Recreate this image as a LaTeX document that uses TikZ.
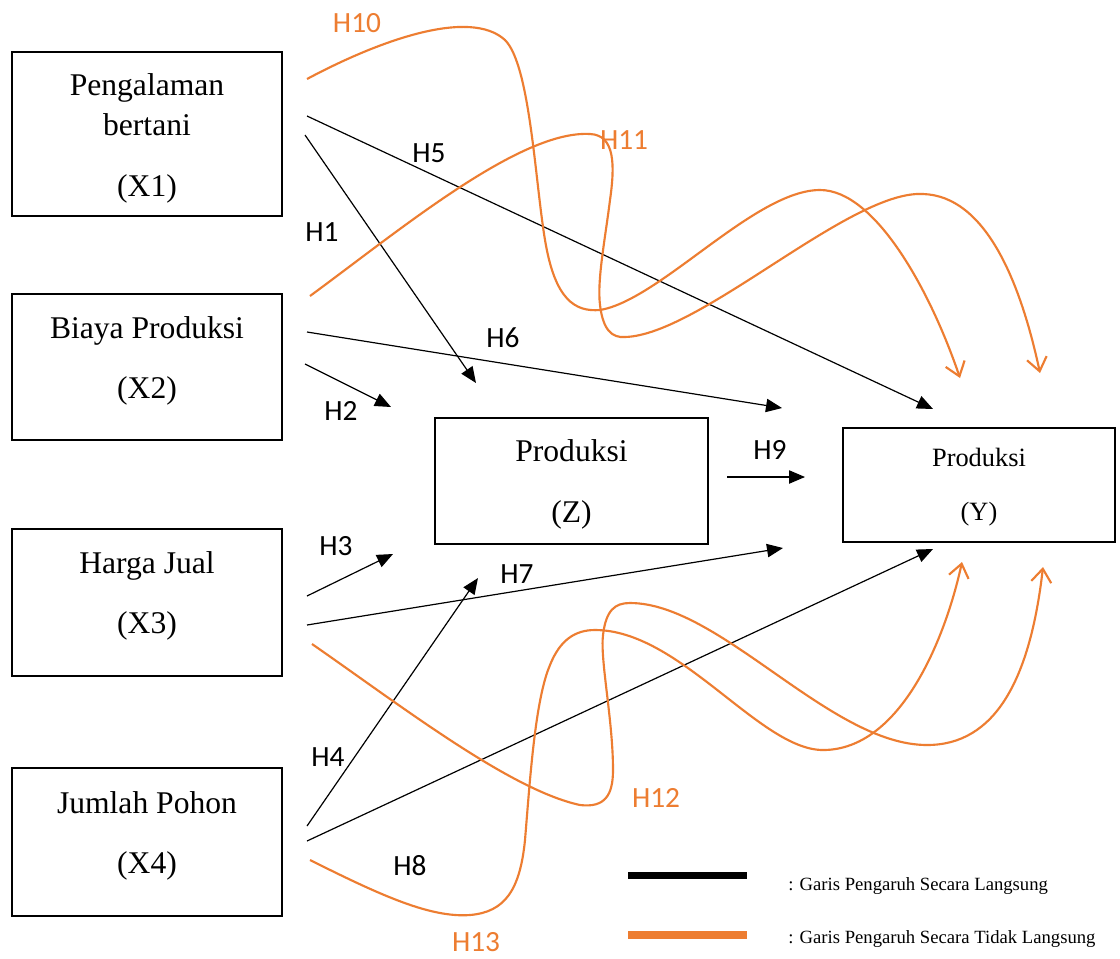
\documentclass[tikz,border=0pt]{standalone}
\usepackage{fontspec}
\setmainfont{Liberation Serif}
\newfontfamily\labfont{Carlito}
\usetikzlibrary{arrows.meta}
\definecolor{orn}{HTML}{ED7D31}
\begin{document}
\begin{tikzpicture}[x=0.75pt,y=-0.75pt,
  box/.style={draw=black, line width=1.4pt, inner sep=0pt},
  boxtext/.style={font=\fontsize{23.7}{28}\selectfont, anchor=base, inner sep=0pt},
  ytext/.style={font=\fontsize{19.8}{24}\selectfont, anchor=base, inner sep=0pt},
  lab/.style={font=\labfont\fontsize{22}{26}\selectfont, anchor=base, inner sep=0pt},
  olab/.style={lab, text=orn},
  dirarrow/.style={draw=black, line width=0.9pt, -{Triangle[length=12pt,width=10pt]}},
  indarrow/.style={draw=orn, line width=1.6pt, -{Straight Barb[length=10pt,width=15pt,line width=1.6pt]}},
  legtext/.style={font=\fontsize{14}{16}\selectfont, anchor=base west, inner sep=0pt}]
\useasboundingbox (0,0) rectangle (1120,958);
\fill[white] (0,0) rectangle (1120,958);

% boxes
\node[box, minimum width=202.5pt, minimum height=123pt] (X1) at (147,134) {};
\node[box, minimum width=202.5pt, minimum height=109.5pt] (X2) at (147,367) {};
\node[box, minimum width=202.5pt, minimum height=110pt] (X3) at (147,602.5) {};
\node[box, minimum width=202.5pt, minimum height=111pt] (X4) at (147,842) {};
\node[box, minimum width=204.75pt, minimum height=94.5pt] (Z) at (571.5,481) {};
\node[box, minimum width=204pt, minimum height=85.5pt] (Y) at (979,485) {};

% box texts
\node[boxtext] (X1a) at (147,95) {Pengalaman};
\node[boxtext] (X1b) at (147,135) {bertani};
\node[boxtext] (X1c) at (147,196) {(X1)};
\node[boxtext] (X2a) at (147,338) {Biaya Produksi};
\node[boxtext] (X2b) at (147,398) {(X2)};
\node[boxtext] (X3a) at (147,573) {Harga Jual};
\node[boxtext] (X3b) at (147,633) {(X3)};
\node[boxtext] (X4a) at (147,813) {Jumlah Pohon};
\node[boxtext] (X4b) at (147,873) {(X4)};
\node[boxtext] (Za) at (571.5,461) {Produksi};
\node[boxtext] (Zb) at (571.5,522) {(Z)};
\node[ytext] (Ya) at (979,466) {Produksi};
\node[ytext] (Yb) at (979,520) {(Y)};

% connector end points
\coordinate (s5) at (307,116);  \coordinate (e5) at (933,409);
\coordinate (s1) at (305,135);  \coordinate (e1) at (476,383);
\coordinate (s6) at (307,332);  \coordinate (e6) at (782,408);
\coordinate (s2) at (305,364);  \coordinate (e2) at (391,407);
\coordinate (s9) at (727,477);  \coordinate (e9) at (805,477);
\coordinate (s3) at (307,596);  \coordinate (e3) at (393,554);
\coordinate (s7) at (307,625);  \coordinate (e7) at (783,548);
\coordinate (s4) at (307,826);  \coordinate (e4) at (478,578);
\coordinate (s8) at (307,841);  \coordinate (e8) at (933,549);

% direct arrows
\draw[dirarrow] (s5) -- (e5);
\draw[dirarrow] (s1) -- (e1);
\draw[dirarrow] (s6) -- (e6);
\draw[dirarrow] (s2) -- (e2);
\draw[dirarrow] (s9) -- (e9);
\draw[dirarrow] (s3) -- (e3);
\draw[dirarrow] (s7) -- (e7);
\draw[dirarrow] (s4) -- (e4);
\draw[dirarrow] (s8) -- (e8);

% indirect curves
\coordinate (s10) at (307,79);   \coordinate (e10) at (960,378);
\coordinate (s11) at (310,296);  \coordinate (e11) at (1040,373);
\coordinate (s12) at (312,644);  \coordinate (e12) at (1043,567);
\coordinate (s13) at (310,860);  \coordinate (e13) at (962,562);

\draw[indarrow] (s10) .. controls (380,40) and (470,8) .. (505,40)
  .. controls (530,65) and (535,180) .. (545,240)
  .. controls (555,300) and (575,312) .. (600,310)
  .. controls (660,300) and (755,190) .. (820,190)
  .. controls (875,190) and (930,290) .. (e10);

\draw[indarrow] (s11) .. controls (400,230) and (520,130) .. (590,134)
  .. controls (615,135) and (615,165) .. (610,200)
  .. controls (605,240) and (597,280) .. (600,305)
  .. controls (603,330) and (612,338) .. (625,337)
  .. controls (700,335) and (850,190) .. (923,194)
  .. controls (985,196) and (1020,280) .. (e11);

\draw[indarrow] (s12) .. controls (400,705) and (510,790) .. (580,805)
  .. controls (605,808) and (613,795) .. (613,770)
  .. controls (613,720) and (600,660) .. (603,635)
  .. controls (606,610) and (615,603) .. (630,603)
  .. controls (720,603) and (830,745) .. (927,745)
  .. controls (995,745) and (1030,680) .. (e12);

\draw[indarrow] (s13) .. controls (380,895) and (430,918) .. (470,915)
  .. controls (505,912) and (520,890) .. (525,840)
  .. controls (530,780) and (535,700) .. (550,665)
  .. controls (560,640) and (575,630) .. (595,630)
  .. controls (680,630) and (760,750) .. (823,750)
  .. controls (900,750) and (945,640) .. (e13);

% labels
\node[olab] (L10) at (357,32) {H10};
\node[olab] (L11) at (624,149) {H11};
\node[lab] (L5) at (429,162) {H5};
\node[lab] (L1) at (322,241) {H1};
\node[lab] (L6) at (503,347) {H6};
\node[lab] (L2) at (341,420) {H2};
\node[lab] (L9) at (770,459) {H9};
\node[lab] (L3) at (336,555) {H3};
\node[lab] (L7) at (517,583) {H7};
\node[lab] (L4) at (328,766) {H4};
\node[olab] (L12) at (656,807) {H12};
\node[lab] (L8) at (410,875) {H8};
\node[olab] (L13) at (476,951) {H13};

% legend
\draw[line width=5.25pt, black] (628,875.5) -- (747,875.5);
\draw[line width=6pt, orn] (628,935) -- (747,935);
\node[legtext] (leg1) at (788,890) {: Garis Pengaruh Secara Langsung};
\node[legtext] (leg2) at (788,943) {: Garis Pengaruh Secara Tidak Langsung};
\end{tikzpicture}
\end{document}
